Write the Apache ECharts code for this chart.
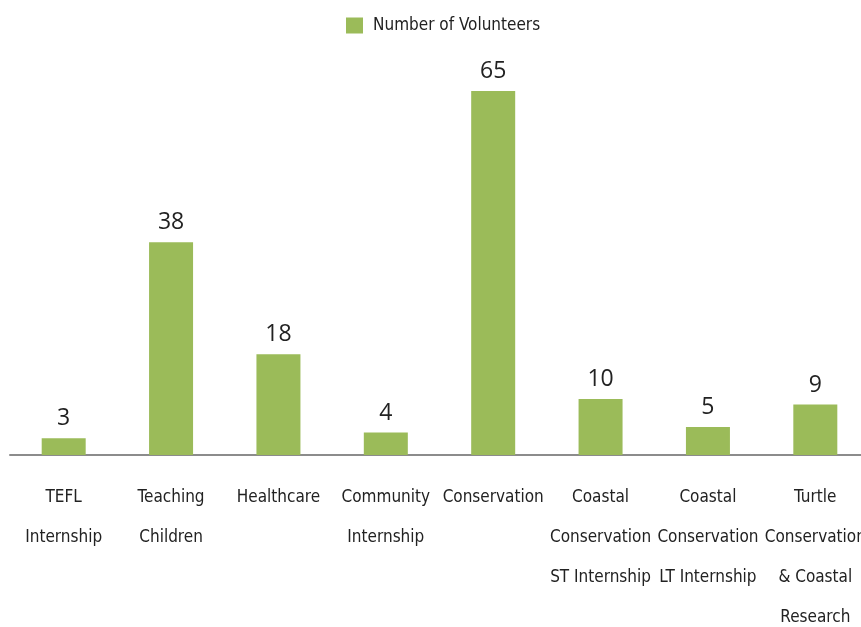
<!DOCTYPE html>
<html><head><meta charset="utf-8">
<script src="https://cdn.jsdelivr.net/npm/echarts@6/dist/echarts.min.js"></script>
<style>html,body{margin:0;padding:0;background:#fff;overflow:hidden}#c{width:861px;height:627px}</style>
</head><body><div id="c"></div>
<script>
const categories = ["TEFL\nInternship","Teaching\nChildren","Healthcare","Community\nInternship","Conservation","Coastal\nConservation\nST Internship","Coastal\nConservation\nLT Internship","Turtle\nConservation\n& Coastal\nResearch"];
const volunteers = [3,38,18,4,65,10,5,9];
const seriesName = "Number of Volunteers";
const condensed = '"DejaVu Sans"';
const chart = echarts.init(document.getElementById('c'));
chart.setOption({
  animation:false,
  legend:{top:17,left:346,padding:0,data:[seriesName],itemWidth:17,itemHeight:16,itemGap:10,
    icon:'rect',textStyle:{fontFamily:condensed,fontWeight:'condensed',fontSize:17,color:'#222',padding:[0,0,0,5]}},
  grid:{left:10,right:-8,top:91,bottom:172,containLabel:false,outerBoundsMode:'none'},
  xAxis:{type:'category',data:categories,
    axisLine:{lineStyle:{color:'#8c8c8c',width:2}},axisTick:{show:false},
    axisLabel:{interval:0,margin:23,lineHeight:40,fontSize:17,fontWeight:'condensed',fontFamily:condensed,color:'#222'}},
  yAxis:{type:'value',min:0,max:65,show:false,splitLine:{show:false}},
  series:[{name:seriesName,type:'bar',data:volunteers,barWidth:44,
    itemStyle:{color:'#9BBB59'},
    label:{show:true,position:'top',distance:8,fontSize:23,fontFamily:'"Open Sans","Noto Sans",sans-serif',color:'#222'}}]
});
</script></body></html>
